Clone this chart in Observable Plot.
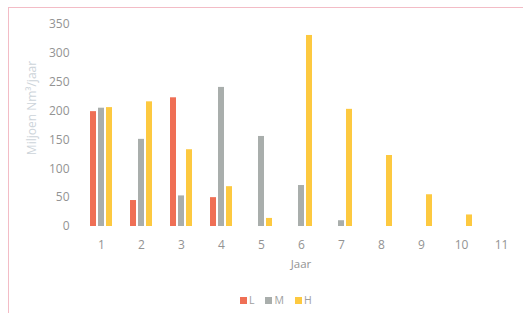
<!DOCTYPE html>
<html>
<head>
<meta charset="utf-8">
<script src="https://cdn.jsdelivr.net/npm/d3@7"></script>
<script src="https://cdn.jsdelivr.net/npm/@observablehq/plot@0.6"></script>
<style>
  html, body { margin: 0; padding: 0; background: #fff; }
  #wrap { position: relative; width: 523px; height: 313px; overflow: hidden; font-family: "Open Sans", sans-serif; }
  #frame { position: absolute; left: 8px; top: 7px; right: -2px; bottom: -2px; border-top: 1px solid #f3bcc6; border-left: 1px solid #f3bcc6; }
  #chart { position: absolute; left: 0; top: 0; }
  #ylabel { position: absolute; left: 31px; top: 108px; transform: translate(-50%, -50%) rotate(-90deg); white-space: nowrap; font-size: 12px; color: #cdd4da; }
  #xlabel { position: absolute; left: 301px; top: 263px; transform: translate(-50%, -50%); font-size: 11.5px; color: #939393; }
  #legend { position: absolute; left: 240px; top: 293px; display: flex; align-items: center; font-size: 10.5px; color: #9e9e9e; }
  #legend span.sw { display: inline-block; width: 7px; height: 7px; margin-right: 2px; }
  #legend span.lb { margin-right: 11px; }
</style>
</head>
<body>
<div id="wrap">
  <div id="frame"></div>
  <div id="chart"></div>
  <div id="ylabel">Miljoen Nm³/jaar</div>
  <div id="xlabel">Jaar</div>
  <div id="legend"></div>
</div>
<script>
const years = [1, 2, 3, 4, 5, 6, 7, 8, 9, 10, 11];
const series = ["L", "M", "H"];
const colors = ["#ef6f55", "#a9aeac", "#fdc940"];
const valuesL = [199, 45, 223, 50, 0, 0, 0, 0, 0, 0, 0];
const valuesM = [205, 151, 53, 241, 156, 71, 10, 0, 0, 0, 0];
const valuesH = [206, 216, 133, 69, 14, 331, 203, 123, 55, 20, 0];
const yTicks = [0, 50, 100, 150, 200, 250, 300, 350];

const seriesValues = {L: valuesL, M: valuesM, H: valuesH};
const data = [];
years.forEach((yr, i) => {
  series.forEach(s => data.push({year: yr, series: s, value: seriesValues[s][i]}));
});

const chart = Plot.plot({
  width: 523,
  height: 280,
  marginLeft: 78,
  marginRight: 0,
  marginTop: 24,
  marginBottom: 54,
  style: {fontFamily: "Open Sans, sans-serif", fontSize: "12px", color: "#939393", background: "transparent"},
  fx: {domain: years, padding: 0, label: null, tickSize: 0, tickPadding: 14},
  x: {domain: series, paddingInner: 0.2, paddingOuter: 0.85, axis: null},
  y: {domain: [0, 350], ticks: yTicks, label: null, tickSize: 0, tickPadding: 12},
  color: {domain: series, range: colors},
  marks: [
    Plot.barY(data.filter(d => d.value > 0), {fx: "year", x: "series", y: "value", fill: "series"})
  ]
});
document.getElementById("chart").appendChild(chart);

const legend = document.getElementById("legend");
series.forEach((s, i) => {
  const sw = document.createElement("span");
  sw.className = "sw";
  sw.style.background = colors[i];
  const lb = document.createElement("span");
  lb.className = "lb";
  lb.textContent = s;
  legend.appendChild(sw);
  legend.appendChild(lb);
});
</script>
</body>
</html>
